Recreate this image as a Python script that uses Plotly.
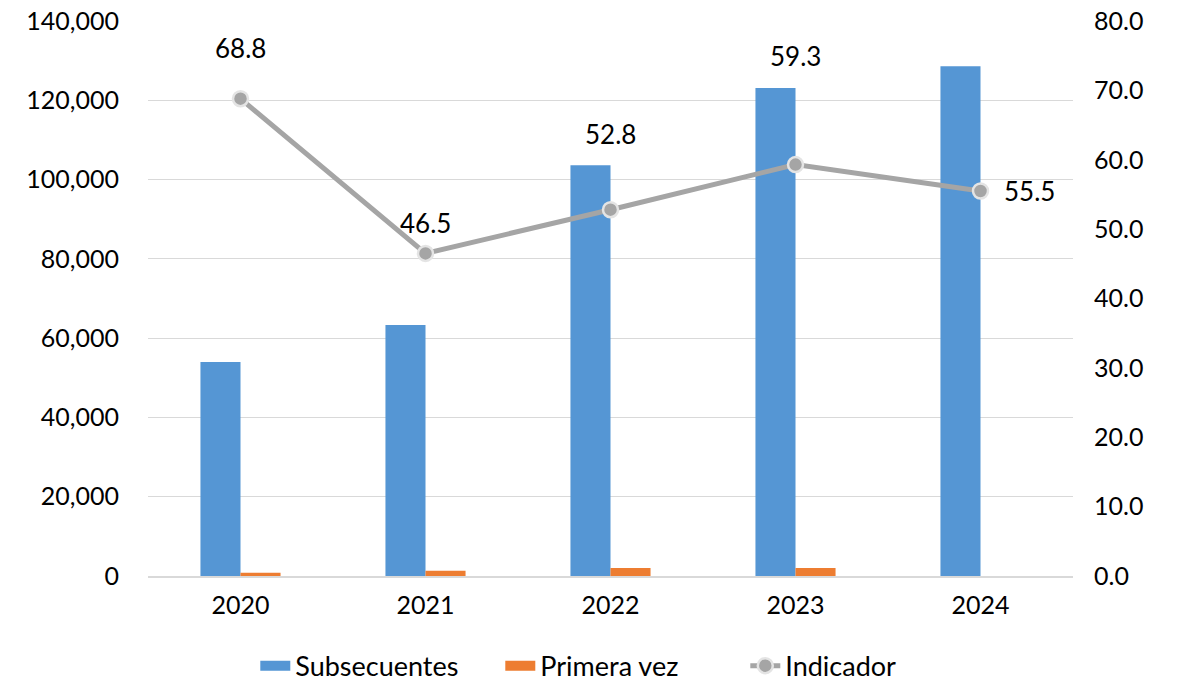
import plotly.graph_objects as go

years = ["2020", "2021", "2022", "2023", "2024"]
subsecuentes = [54000, 63300, 103600, 123100, 128600]
primera_vez = [800, 1300, 2000, 2000, 0]
indicador = [68.8, 46.5, 52.8, 59.3, 55.5]
indicador_labels = ["68.8", "46.5", "52.8", "59.3", "55.5"]

# label offsets in pixels (style, not data)
label_xshift = [0, 0, 0, 0, 49]
label_yshift = [51, 30, 76, 109, 0]

FONT = "Lato, 'Open Sans', sans-serif"
BLUE = "#5596D4"
ORANGE = "#ED7D31"
GRAY = "#A5A5A5"

fig = go.Figure()
fig.add_trace(go.Bar(x=years, y=subsecuentes, name="Subsecuentes", showlegend=False,
                     marker=dict(color=BLUE, line=dict(width=0))))
fig.add_trace(go.Bar(x=years, y=primera_vez, name="Primera vez", showlegend=False,
                     marker=dict(color=ORANGE, line=dict(width=0))))
fig.add_trace(go.Scatter(x=years, y=indicador, name="Indicador", yaxis="y2",
                         mode="lines+markers", showlegend=False,
                         line=dict(color=GRAY, width=5),
                         marker=dict(size=15, color=GRAY,
                                     line=dict(color="#E4E4E4", width=2.5))))
# legend entries
fig.add_trace(go.Scatter(x=[None], y=[None], name="Subsecuentes", mode="lines",
                         line=dict(color=BLUE, width=17)))
fig.add_trace(go.Scatter(x=[None], y=[None], name="Primera vez", mode="lines",
                         line=dict(color=ORANGE, width=17)))
fig.add_trace(go.Scatter(x=[None], y=[None], name="Indicador", mode="lines+markers",
                         line=dict(color=GRAY, width=5),
                         marker=dict(size=15, color=GRAY,
                                     line=dict(color="#E4E4E4", width=2.5))))

for i in range(len(years)):
    fig.add_annotation(x=i, xref="x", y=indicador[i], yref="y2", text=indicador_labels[i],
                       showarrow=False, xshift=label_xshift[i], yshift=label_yshift[i],
                       font=dict(size=26, color="#000000", family=FONT))

fig.update_layout(
    width=1185, height=686,
    margin=dict(l=148, r=112, t=21, b=110, autoexpand=False),
    paper_bgcolor="white", plot_bgcolor="white",
    barmode="group", bargap=0.567, bargroupgap=0,
    font=dict(family=FONT, size=25, color="#000000"),
    showlegend=True,
    legend=dict(orientation="h", x=0.116, xanchor="left", xref="paper",
                yref="container", y=0.029, yanchor="middle", font=dict(size=27),
                entrywidth=200, traceorder="normal"),
    xaxis=dict(type="category", showline=True, linecolor="#D9D9D9", linewidth=2,
               ticks="", showgrid=False, tickfont=dict(size=25),
               ticklabelstandoff=6, automargin=False),
    yaxis=dict(range=[0, 140000], dtick=20000, tickformat=",",
               showgrid=True, gridcolor="#D9D9D9", gridwidth=1,
               zeroline=False, showline=False, ticks="",
               tickfont=dict(size=25), ticklabelstandoff=28, automargin=False,
               ticklabeloverflow="allow"),
    yaxis2=dict(range=[0, 80], dtick=10, tickformat=".1f", overlaying="y",
                side="right", showgrid=False, zeroline=False, showline=False,
                ticks="", tickfont=dict(size=25), ticklabelstandoff=20,
                automargin=False, ticklabeloverflow="allow"),
)

fig.write_html("out.html", config={"displayModeBar": False},
               post_script="document.body.style.margin='0';document.body.style.overflow='hidden';")
